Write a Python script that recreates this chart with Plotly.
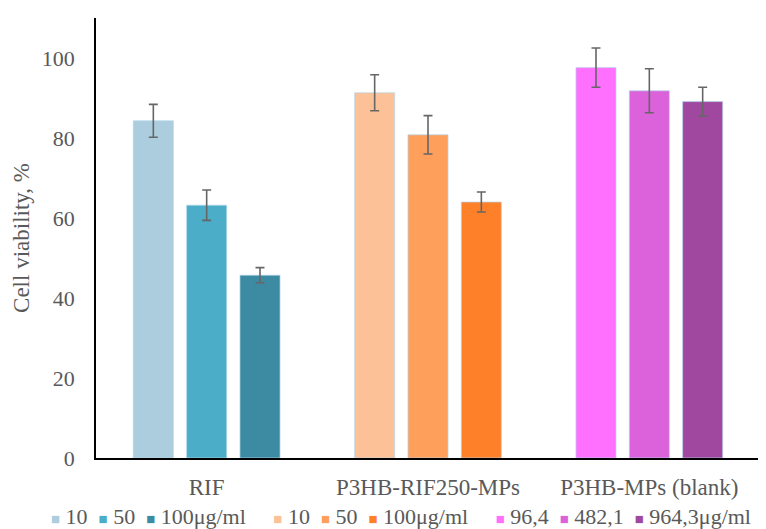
import plotly.graph_objects as go

# ---- data ----
categories = ["RIF", "P3HB-RIF250-MPs", "P3HB-MPs (blank)"]
series_labels = ["10", "50", "100μg/ml", "10", "50", "100μg/ml", "96,4", "482,1", "964,3μg/ml"]
series_category = [0, 0, 0, 1, 1, 1, 2, 2, 2]
series_values = [84.3, 63.2, 45.7, 91.3, 80.8, 64.0, 97.6, 91.8, 89.1]
series_errors = [4.1, 3.8, 1.9, 4.5, 4.8, 2.5, 4.9, 5.5, 3.6]
series_colors = ["#abcddd", "#4badc7", "#3d8ba3",
                 "#fdc197", "#fe9f5c", "#fe8028",
                 "#ff70ff", "#db62db", "#a0489f"]
slot_in_group = [0, 1, 2, 0, 1, 2, 0, 1, 2]
y_ticks = [0, 20, 40, 60, 80, 100]

BAR_W = 0.181
SLOT_STEP = 0.241
FONT = "Liberation Serif, Times New Roman, serif"
TXT = "#595959"

fig = go.Figure()
for i in range(len(series_values)):
    center = (slot_in_group[i] - 1) * SLOT_STEP
    fig.add_trace(go.Bar(
        x=[categories[series_category[i]]],
        y=[series_values[i]],
        name=series_labels[i],
        width=BAR_W,
        offset=center - BAR_W / 2,
        marker=dict(color=series_colors[i],
                    line=dict(color="rgba(180,215,235,0.9)", width=0.8)),
        error_y=dict(type="data", array=[series_errors[i]], visible=True,
                     color="#666666", thickness=1.6, width=4.5),
        showlegend=False,
    ))

# compact one-row legend (built from series labels/colours)
parts = []
for i in range(len(series_labels)):
    sq = f'<span style="color:{series_colors[i]};font-size:15px">■</span>&nbsp;{series_labels[i]}'
    if i == 0:
        parts.append(sq)
    elif slot_in_group[i] == 0:
        parts.append("&nbsp;&nbsp;&nbsp;&nbsp;&nbsp;" + sq)
    else:
        parts.append("&nbsp;&nbsp;" + sq)
legend_text = "".join(parts)

fig.add_annotation(
    text=legend_text, xref="paper", yref="paper",
    x=0.459, y=-0.134, xanchor="center", yanchor="middle",
    showarrow=False, font=dict(family=FONT, size=22, color=TXT),
)

# page body has an 8px margin: shrink figure and margins accordingly
fig.update_layout(
    width=758, height=521,
    margin=dict(l=88, r=6, t=10, b=71),
    paper_bgcolor="white", plot_bgcolor="white",
    barmode="overlay",
    font=dict(family=FONT, size=23, color=TXT),
    showlegend=False,
    xaxis=dict(
        categoryorder="array", categoryarray=categories,
        range=[-0.5, 2.5],
        showline=True, linecolor="#000000", linewidth=1.5,
        showgrid=False, ticks="", zeroline=False,
        tickfont=dict(family=FONT, size=23, color=TXT),
        ticklabelstandoff=8,
    ),
    yaxis=dict(
        range=[0, 110], tickvals=y_ticks,
        showline=True, linecolor="#000000", linewidth=1.5,
        showgrid=False, ticks="", zeroline=False,
        tickfont=dict(family=FONT, size=22, color=TXT),
        ticklabelstandoff=15,
        title=dict(text="Cell viability, %", font=dict(family=FONT, size=23, color=TXT),
                   standoff=6),
    ),
)

fig.write_html("out.html")
